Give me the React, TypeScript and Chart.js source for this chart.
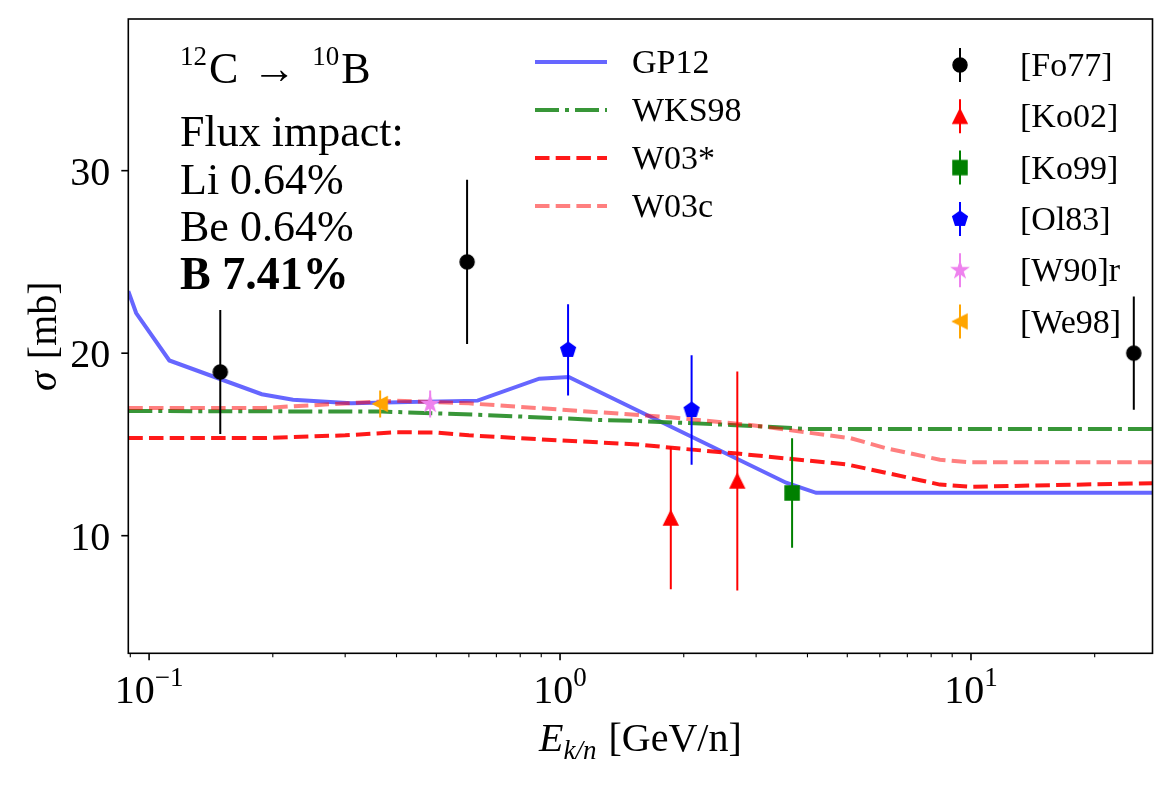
import React, { useEffect, useRef } from 'react';
import { Chart, registerables } from 'chart.js';

Chart.register(...registerables);

// ---------- data ----------
const xMin = 0.089;
const xMax = 27.65;
const yMin = 3.556;
const yMax = 38.31;

const xTickValues = [0.1, 1, 10];
const xTickExps = ['\u22121', '0', '1'];
const yTickValues = [10, 20, 30];

const gp12E = [0.089, 0.093, 0.112, 0.188, 0.224, 0.31, 0.63, 0.89, 1.05, 3.55, 4.2, 27.65];
const gp12S = [23.4, 22.2, 19.6, 17.75, 17.45, 17.25, 17.4, 18.6, 18.7, 12.9, 12.35, 12.35];

const wks98E = [0.089, 0.37, 0.66, 1.25, 1.56, 2.6, 4.0, 27.65];
const wks98S = [16.83, 16.8, 16.61, 16.34, 16.28, 16.07, 15.85, 15.85];

const w03sE = [0.089, 0.19, 0.3, 0.4, 0.5, 0.6, 1.0, 1.55, 1.9, 2.7, 5.0, 6.2, 8.4, 10, 27.65];
const w03sS = [15.35, 15.35, 15.5, 15.67, 15.65, 15.5, 15.22, 15.0, 14.8, 14.5, 13.9, 13.45, 12.8, 12.68, 12.88];

const w03cE = [0.089, 0.19, 0.4, 0.6, 0.9, 1.25, 1.86, 2.9, 4.1, 5.1, 6.2, 8.4, 10, 27.65];
const w03cS = [17.0, 17.0, 17.4, 17.25, 16.98, 16.76, 16.49, 16.07, 15.62, 15.34, 14.8, 14.16, 14.02, 14.02];

const fo77E = [0.149, 0.594, 24.9];
const fo77S = [18.97, 25.0, 20.0];
const fo77Err = [3.4, 4.5, 3.1];

const ko02E = [1.86, 2.7];
const ko02S = [10.97, 13.0];
const ko02Err = [3.9, 6.0];

const ko99E = [3.67];
const ko99S = [12.34];
const ko99Err = [3.0];

const ol83E = [1.046, 2.09];
const ol83S = [20.18, 16.89];
const ol83Err = [2.5, 3.0];

const w90E = [0.483];
const w90S = [17.22];
const w90Err = [0.74];

const we98E = [0.365];
const we98S = [17.22];
const we98Err = [0.74];

const modelNames = ['GP12', 'WKS98', 'W03*', 'W03c'];
const dataNames = ['[Fo77]', '[Ko02]', '[Ko99]', '[Ol83]', '[W90]r', '[We98]'];

const annotLines = ['Flux impact:', 'Li 0.64%', 'Be 0.64%'];
const annotBold = 'B 7.41%';

// ---------- styles ----------
const SERIF = '"Liberation Serif", "Times New Roman", serif';
const C_GP12 = 'rgba(0,0,255,0.6)';
const C_WKS = 'rgba(34,139,34,0.9)';
const C_W03S = 'rgba(255,0,0,0.9)';
const C_W03C = 'rgba(255,0,0,0.5)';
const LW = 4;
const DASH = [14.5, 6.2];
const DASHDOT = [24, 6, 4, 6];

type MarkerKind = 'circle' | 'triUp' | 'square' | 'pentagon' | 'star' | 'triLeft';

function drawMarker(ctx: CanvasRenderingContext2D, kind: MarkerKind, cx: number, cy: number, color: string) {
  const a = 7;
  ctx.save();
  ctx.fillStyle = color;
  ctx.strokeStyle = color;
  ctx.lineWidth = 1.5;
  ctx.lineJoin = 'miter';
  ctx.beginPath();
  if (kind === 'circle') {
    ctx.arc(cx, cy, a, 0, Math.PI * 2);
  } else if (kind === 'triUp') {
    ctx.moveTo(cx, cy - a);
    ctx.lineTo(cx + a, cy + a);
    ctx.lineTo(cx - a, cy + a);
    ctx.closePath();
  } else if (kind === 'triLeft') {
    ctx.moveTo(cx - a, cy);
    ctx.lineTo(cx + a, cy - a);
    ctx.lineTo(cx + a, cy + a);
    ctx.closePath();
  } else if (kind === 'square') {
    ctx.rect(cx - a, cy - a, 2 * a, 2 * a);
  } else if (kind === 'pentagon') {
    const r = 7.6;
    for (let k = 0; k < 5; k++) {
      const ang = -Math.PI / 2 + (k * 2 * Math.PI) / 5;
      const px = cx + r * Math.cos(ang);
      const py = cy + r * Math.sin(ang);
      if (k === 0) ctx.moveTo(px, py);
      else ctx.lineTo(px, py);
    }
    ctx.closePath();
  } else if (kind === 'star') {
    const r = 8;
    const ri = r * 0.382;
    for (let k = 0; k < 10; k++) {
      const ang = -Math.PI / 2 + (k * Math.PI) / 5;
      const rr = k % 2 === 0 ? r : ri;
      const px = cx + rr * Math.cos(ang);
      const py = cy + rr * Math.sin(ang);
      if (k === 0) ctx.moveTo(px, py);
      else ctx.lineTo(px, py);
    }
    ctx.closePath();
  }
  ctx.fill();
  ctx.stroke();
  ctx.restore();
}

function markerCanvas(kind: MarkerKind, color: string): HTMLCanvasElement {
  const c = document.createElement('canvas');
  c.width = 24;
  c.height = 24;
  const ctx = c.getContext('2d')!;
  drawMarker(ctx, kind, 12, 12, color);
  return c;
}

type Run = { text: string; font: string; dy?: number; gap?: number };
function drawRuns(ctx: CanvasRenderingContext2D, runs: Run[], x: number, y: number, align: 'left' | 'center' = 'left') {
  let total = 0;
  const widths = runs.map((r) => {
    ctx.font = r.font;
    const w = ctx.measureText(r.text).width;
    total += w + (r.gap || 0);
    return w;
  });
  let cx = align === 'center' ? x - total / 2 : x;
  ctx.textAlign = 'left';
  runs.forEach((r, i) => {
    ctx.font = r.font;
    ctx.fillText(r.text, cx, y + (r.dy || 0));
    cx += widths[i] + (r.gap || 0);
  });
}

const pts = (e: number[], s: number[]) => e.map((v, i) => ({ x: v, y: s[i] }));

export default function App() {
  const ref = useRef<HTMLCanvasElement | null>(null);

  useEffect(() => {
    const canvas = ref.current;
    if (!canvas) return;

    const markers: { kind: MarkerKind; color: string; name: string }[] = [
      { kind: 'circle', color: '#000000', name: dataNames[0] },
      { kind: 'triUp', color: '#ff0000', name: dataNames[1] },
      { kind: 'square', color: '#008000', name: dataNames[2] },
      { kind: 'pentagon', color: '#0000ff', name: dataNames[3] },
      { kind: 'star', color: '#ee82ee', name: dataNames[4] },
      { kind: 'triLeft', color: '#ffa500', name: dataNames[5] },
    ];
    const imgs = markers.map((m) => markerCanvas(m.kind, m.color));

    const lineDs = (label: string, e: number[], s: number[], color: string, dash: number[], order: number) => ({
      label,
      data: pts(e, s),
      borderColor: color,
      backgroundColor: color,
      borderWidth: LW,
      borderDash: dash,
      borderCapStyle: 'butt',
      pointRadius: 0,
      fill: false,
      tension: 0,
      order,
    });

    const pointDs = (idx: number, e: number[], s: number[], err: number[]) => ({
      label: markers[idx].name,
      data: pts(e, s),
      showLine: false,
      pointStyle: imgs[idx],
      pointRadius: 8,
      borderWidth: 0,
      errors: err,
      errColor: markers[idx].color,
      order: 0,
    });

    const errPlugin = {
      id: 'errbars',
      beforeDatasetDraw(chart: any, args: any) {
        const ds = chart.data.datasets[args.index];
        if (!ds.errors) return;
        const ctx = chart.ctx as CanvasRenderingContext2D;
        const xs = chart.scales.x;
        const ys = chart.scales.y;
        const a = chart.chartArea;
        ctx.save();
        ctx.beginPath();
        ctx.rect(a.left, a.top, a.right - a.left, a.bottom - a.top);
        ctx.clip();
        ctx.strokeStyle = ds.errColor;
        ctx.lineWidth = 2;
        ds.data.forEach((p: any, i: number) => {
          const px = xs.getPixelForValue(p.x);
          ctx.beginPath();
          ctx.moveTo(px, ys.getPixelForValue(p.y - ds.errors[i]));
          ctx.lineTo(px, ys.getPixelForValue(p.y + ds.errors[i]));
          ctx.stroke();
        });
        ctx.restore();
      },
    };

    const decorPlugin = {
      id: 'decor',
      afterDraw(chart: any) {
        const ctx = chart.ctx as CanvasRenderingContext2D;
        const xs = chart.scales.x;
        const ys = chart.scales.y;
        const a = chart.chartArea;
        ctx.save();
        ctx.fillStyle = '#000';
        ctx.strokeStyle = '#000';

        // frame
        ctx.lineWidth = 1.6;
        ctx.strokeRect(a.left, a.top, a.right - a.left, a.bottom - a.top);

        // x ticks
        for (let d = -2; d <= 2; d++) {
          for (let k = 1; k <= 9; k++) {
            const v = k * Math.pow(10, d);
            if (v < xMin || v > xMax) continue;
            const px = xs.getPixelForValue(v);
            const major = k === 1;
            ctx.lineWidth = major ? 1.6 : 1.1;
            ctx.beginPath();
            ctx.moveTo(px, a.bottom);
            ctx.lineTo(px, a.bottom + (major ? 7 : 4));
            ctx.stroke();
          }
        }
        // y ticks
        ctx.lineWidth = 1.6;
        yTickValues.forEach((v) => {
          const py = ys.getPixelForValue(v);
          ctx.beginPath();
          ctx.moveTo(a.left, py);
          ctx.lineTo(a.left - 7, py);
          ctx.stroke();
        });

        // tick labels
        ctx.textBaseline = 'alphabetic';
        yTickValues.forEach((v) => {
          const py = ys.getPixelForValue(v);
          ctx.font = `40px ${SERIF}`;
          ctx.textAlign = 'right';
          ctx.fillText(String(v), a.left - 18, py + 14);
        });
        xTickValues.forEach((v, i) => {
          const px = xs.getPixelForValue(v);
          drawRuns(
            ctx,
            [
              { text: '10', font: `40px ${SERIF}` },
              { text: xTickExps[i], font: `27px ${SERIF}`, dy: -17 },
            ],
            px,
            703,
            'center'
          );
        });

        // axis labels
        drawRuns(
          ctx,
          [
            { text: 'E', font: `italic 40px ${SERIF}` },
            { text: 'k/n', font: `italic 27px ${SERIF}`, dy: 8, gap: 12 },
            { text: '[GeV/n]', font: `40px ${SERIF}` },
          ],
          (a.left + a.right) / 2,
          751,
          'center'
        );
        ctx.save();
        ctx.translate(56, (a.top + a.bottom) / 2);
        ctx.rotate(-Math.PI / 2);
        drawRuns(
          ctx,
          [
            { text: '\u03C3', font: `italic 40px ${SERIF}`, gap: 12 },
            { text: '[mb]', font: `40px ${SERIF}` },
          ],
          0,
          0,
          'center'
        );
        ctx.restore();

        // annotation
        drawRuns(
          ctx,
          [
            { text: '12', font: `27px ${SERIF}`, dy: -18, gap: 2 },
            { text: 'C', font: `44px ${SERIF}`, gap: 14 },
            { text: '\u2192', font: `44px ${SERIF}`, gap: 16 },
            { text: '10', font: `27px ${SERIF}`, dy: -18, gap: 2 },
            { text: 'B', font: `44px ${SERIF}` },
          ],
          180,
          83,
          'left'
        );
        ctx.textAlign = 'left';
        ctx.font = `44px ${SERIF}`;
        annotLines.forEach((t, i) => {
          ctx.fillText(t, 180, 146 + i * 47.5);
        });
        ctx.font = `bold 46px ${SERIF}`;
        ctx.fillText(annotBold, 180, 146 + 3 * 47.5);

        // legend: models
        const modelStyles = [
          { c: C_GP12, d: [] as number[] },
          { c: C_WKS, d: DASHDOT },
          { c: C_W03S, d: DASH },
          { c: C_W03C, d: DASH },
        ];
        modelNames.forEach((n, i) => {
          const y = 62 + i * 48;
          ctx.save();
          ctx.strokeStyle = modelStyles[i].c;
          ctx.lineWidth = LW;
          ctx.setLineDash(modelStyles[i].d);
          ctx.beginPath();
          ctx.moveTo(535, y);
          ctx.lineTo(607, y);
          ctx.stroke();
          ctx.restore();
          ctx.fillStyle = '#000';
          ctx.font = `34px ${SERIF}`;
          ctx.textAlign = 'left';
          ctx.fillText(n, 632, y + 11);
        });

        // legend: data
        markers.forEach((m, i) => {
          const y = 65 + i * 51.3;
          ctx.save();
          ctx.strokeStyle = m.color;
          ctx.lineWidth = 2;
          ctx.beginPath();
          ctx.moveTo(960, y - 17);
          ctx.lineTo(960, y + 17);
          ctx.stroke();
          ctx.restore();
          ctx.drawImage(imgs[i], 960 - 12, y - 12);
          ctx.fillStyle = '#000';
          ctx.font = `34px ${SERIF}`;
          ctx.textAlign = 'left';
          ctx.fillText(m.name, 1020, y + 11);
        });

        ctx.restore();
      },
    };

    const chart = new Chart(canvas, {
      type: 'line',
      data: {
        datasets: [
          pointDs(0, fo77E, fo77S, fo77Err),
          pointDs(1, ko02E, ko02S, ko02Err),
          pointDs(2, ko99E, ko99S, ko99Err),
          pointDs(3, ol83E, ol83S, ol83Err),
          pointDs(4, w90E, w90S, w90Err),
          pointDs(5, we98E, we98S, we98Err),
          lineDs(modelNames[3], w03cE, w03cS, C_W03C, DASH, 1),
          lineDs(modelNames[2], w03sE, w03sS, C_W03S, DASH, 2),
          lineDs(modelNames[1], wks98E, wks98S, C_WKS, DASHDOT, 3),
          lineDs(modelNames[0], gp12E, gp12S, C_GP12, [], 4),
        ] as any,
      },
      options: {
        animation: false,
        responsive: false,
        maintainAspectRatio: false,
        devicePixelRatio: 1,
        layout: { padding: { left: 0, top: 19, right: 19.5, bottom: 0 } },
        plugins: { legend: { display: false }, tooltip: { enabled: false }, title: { display: false } },
        events: [],
        scales: {
          x: {
            type: 'logarithmic',
            min: xMin,
            max: xMax,
            grid: { display: false },
            border: { display: false },
            ticks: { display: false },
            afterFit: (s: any) => {
              s.height = 133.7;
            },
          },
          y: {
            type: 'linear',
            min: yMin,
            max: yMax,
            grid: { display: false },
            border: { display: false },
            ticks: { display: false },
            afterFit: (s: any) => {
              s.width = 128.3;
            },
          },
        },
      } as any,
      plugins: [errPlugin, decorPlugin],
    });

    return () => chart.destroy();
  }, []);

  return (
    <div style={{ position: 'absolute', left: 0, top: 0, width: 1172, height: 787, background: '#fff' }}>
      <canvas ref={ref} width={1172} height={787} style={{ width: 1172, height: 787, display: 'block' }} />
    </div>
  );
}
